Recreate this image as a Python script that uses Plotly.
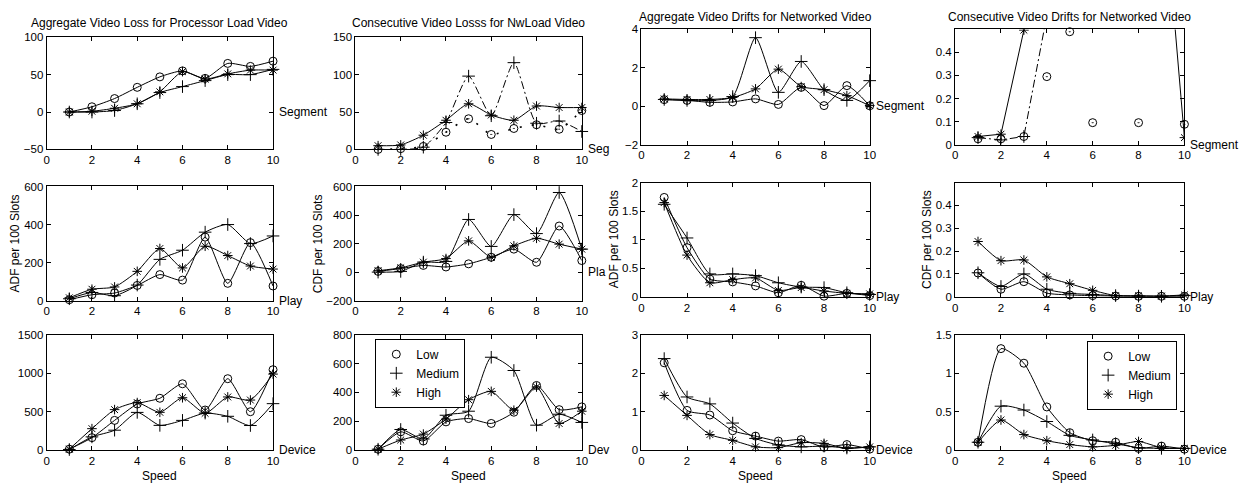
import plotly.graph_objects as go

W, H = 1248, 493
FONT = "Liberation Sans, Arial, Helvetica, sans-serif"

speed = [1, 2, 3, 4, 5, 6, 7, 8, 9, 10]
level_names = ["Low", "Medium", "High"]
x_ticks = [0, 2, 4, 6, 8, 10]

titles = ["Aggregate Video Loss for Processor Load Video",
          "Consecutive Video Losss for NwLoad Video",
          "Aggregate Video Drifts for Networked Video",
          "Consecutive Video Drifts for Networked Video"]
row_labels = [["Segment", "Seg", "Segment", "Segment"],
              ["Play", "Pla", "Play", "Play"],
              ["Device", "Dev", "Device", "Device"]]
y_labels = ["ADF per 100 Slots", "CDF per 100 Slots", "ADF per 100 Slots", "CDF per 100 Slots"]
x_label = "Speed"

y_ranges = [[[-50, 100], [0, 150], [-2, 4], [0, 0.5]],
            [[0, 600], [-200, 600], [0, 2], [0, 0.5]],
            [[0, 1500], [0, 800], [0, 3], [0, 1.5]]]
y_ticks = [[[-50, 0, 50, 100], [0, 50, 100, 150], [-2, 0, 2, 4], [0, 0.1, 0.2, 0.3, 0.4]],
           [[0, 200, 400, 600], [-200, 0, 200, 400, 600], [0, 0.5, 1, 1.5, 2], [0, 0.1, 0.2, 0.3, 0.4]],
           [[0, 500, 1000, 1500], [0, 200, 400, 600, 800], [0, 1, 2, 3], [0, 0.5, 1, 1.5]]]

# Aggregate Video Loss for Processor Load Video
loss_agg_seg_low = [0, 7, 18, 33, 47, 55, 45, 65, 61, 68]
loss_agg_seg_med = [0, 0, 2, 11, 26, 34, 42, 50, 50, 57]
loss_agg_seg_high = [0, 1, 5, 11, 27, 54, 44, 51, 56, 56]
loss_agg_play_low = [5, 31, 40, 80, 137, 108, 334, 91, 305, 77]
loss_agg_play_med = [10, 43, 26, 82, 217, 265, 360, 400, 300, 340]
loss_agg_play_high = [15, 60, 72, 154, 274, 172, 286, 237, 182, 166]
loss_agg_dev_low = [10, 160, 385, 598, 673, 862, 520, 928, 498, 1045]
loss_agg_dev_med = [5, 170, 257, 489, 320, 385, 480, 438, 318, 603]
loss_agg_dev_high = [10, 277, 525, 617, 490, 680, 477, 690, 650, 988]

# Consecutive Video Losss for NwLoad Video
loss_con_seg_low = [0, 1, 4, 23, 41, 20, 28, 33, 27, 52]
loss_con_seg_med = [0, 0, 3, 36, 98, 45, 116, 35, 38, 24]
loss_con_seg_high = [5, 6, 19, 39, 61, 46, 39, 58, 56, 56]
loss_con_play_low = [5, 25, 47, 36, 58, 104, 161, 69, 323, 81]
loss_con_play_med = [0, 5, 70, 75, 369, 180, 403, 270, 558, 161]
loss_con_play_high = [10, 30, 70, 95, 219, 104, 184, 237, 196, 161]
loss_con_dev_low = [5, 126, 62, 195, 218, 184, 262, 448, 280, 299]
loss_con_dev_med = [5, 142, 76, 241, 269, 644, 552, 172, 248, 191]
loss_con_dev_high = [5, 69, 110, 214, 349, 407, 276, 437, 184, 269]

# Aggregate Video Drifts for Networked Video
drift_agg_seg_low = [0.34, 0.3, 0.2, 0.22, 0.38, 0.09, 0.98, 0.03, 1.07, 0.02]
drift_agg_seg_med = [0.35, 0.3, 0.3, 0.5, 3.57, 0.72, 2.33, 0.86, 0.3, 1.33]
drift_agg_seg_high = [0.38, 0.35, 0.35, 0.45, 0.9, 1.93, 1.02, 0.86, 0.55, 0.03]
drift_agg_play_low = [1.74, 0.86, 0.31, 0.26, 0.19, 0.07, 0.2, 0.01, 0.06, 0.02]
drift_agg_play_med = [1.62, 1.03, 0.4, 0.4, 0.37, 0.245, 0.17, 0.16, 0.07, 0.04]
drift_agg_play_high = [1.65, 0.73, 0.245, 0.3, 0.33, 0.11, 0.16, 0.1, 0.06, 0.05]
drift_agg_dev_low = [2.27, 1.03, 0.91, 0.5, 0.36, 0.23, 0.27, 0.07, 0.14, 0.02]
drift_agg_dev_med = [2.38, 1.38, 1.2, 0.7, 0.3, 0.13, 0.08, 0.1, 0.05, 0.08]
drift_agg_dev_high = [1.42, 0.9, 0.4, 0.25, 0.08, 0.06, 0.19, 0.17, 0.04, 0.08]

# Consecutive Video Drifts for Networked Video (None = off the visible scale, unreadable)
drift_con_seg_low = [0.025, 0.025, 0.035, 0.295, 0.49, 0.095, None, 0.095, None, 0.088]
drift_con_seg_med = [0.03, 0.02, 0.035, 0.56, 1.3, 1.3, 1.3, 1.3, 1.3, 1.3]
drift_con_seg_high = [0.035, 0.045, 0.497, 1.2, 1.2, 1.2, 1.2, 1.2, 1.2, 0.03]
drift_con_play_low = [0.104, 0.033, 0.066, 0.016, 0.008, 0.005, 0.003, 0.002, 0.002, 0.002]
drift_con_play_med = [0.105, 0.045, 0.1, 0.033, 0.015, 0.01, 0.005, 0.003, 0.002, 0.005]
drift_con_play_high = [0.242, 0.158, 0.161, 0.087, 0.057, 0.028, 0.005, 0.004, 0.003, 0.008]
drift_con_dev_low = [0.1, 1.32, 1.13, 0.56, 0.225, 0.12, 0.1, 0.02, 0.05, 0.01]
drift_con_dev_med = [0.1, 0.57, 0.52, 0.37, 0.19, 0.13, 0.08, 0.03, 0.02, 0.02]
drift_con_dev_high = [0.1, 0.39, 0.2, 0.12, 0.07, 0.04, 0.06, 0.11, 0.03, 0.02]

panel_data = [
    [(loss_agg_seg_low, loss_agg_seg_med, loss_agg_seg_high),
     (loss_con_seg_low, loss_con_seg_med, loss_con_seg_high),
     (drift_agg_seg_low, drift_agg_seg_med, drift_agg_seg_high),
     (drift_con_seg_low, drift_con_seg_med, drift_con_seg_high)],
    [(loss_agg_play_low, loss_agg_play_med, loss_agg_play_high),
     (loss_con_play_low, loss_con_play_med, loss_con_play_high),
     (drift_agg_play_low, drift_agg_play_med, drift_agg_play_high),
     (drift_con_play_low, drift_con_play_med, drift_con_play_high)],
    [(loss_agg_dev_low, loss_agg_dev_med, loss_agg_dev_high),
     (loss_con_dev_low, loss_con_dev_med, loss_con_dev_high),
     (drift_agg_dev_low, drift_agg_dev_med, drift_agg_dev_high),
     (drift_con_dev_low, drift_con_dev_med, drift_con_dev_high)],
]

# layout (pixels)
col_px = [(44, 272), (355, 583), (643, 873), (959, 1190)]
row_px_left = [(32, 147), (185, 302), (337, 455)]
row_px_right = [(24, 142), (181, 298), (337, 455)]
title_y_px = [17, 17, 11, 11]
ylabel_x_px = [12, 317, 615, 930]
xlabel_y_px = 482

symbols = {"Low": "circle-open", "Medium": "cross-thin-open", "High": "asterisk-open"}
sizes = {"Low": 8, "Medium": 9, "High": 8}

fig = go.Figure()
layout = dict(width=W, height=H, margin=dict(l=0, r=0, t=0, b=0),
              paper_bgcolor="white", plot_bgcolor="white",
              font=dict(family=FONT, size=12, color="black"), annotations=[])

axis_style = dict(showline=True, linecolor="black", linewidth=1, mirror="ticks",
                  ticks="inside", ticklen=4, tickcolor="black", tickwidth=1,
                  showgrid=False, zeroline=False,
                  tickfont=dict(family=FONT, size=11.5, color="black"))

def rows_for(c):
    return row_px_left if c < 2 else row_px_right

for r in range(3):
    for c in range(4):
        i = r * 4 + c + 1
        sfx = "" if i == 1 else str(i)
        l, rr = col_px[c]
        t, b = rows_for(c)[r]
        layout["xaxis" + sfx] = dict(domain=[l / W, rr / W], range=[0, 10], tickvals=x_ticks,
                                     anchor="y" + sfx, **axis_style)
        layout["yaxis" + sfx] = dict(domain=[1 - b / H, 1 - t / H], range=y_ranges[r][c],
                                     tickvals=y_ticks[r][c], anchor="x" + sfx, **axis_style)
        special = (r == 0 and c in (1, 3))
        for k, name in enumerate(level_names):
            dash = "solid"
            symbol = symbols[name]
            width = 1
            mode = "lines+markers"
            clip = (r == 0 and c == 3)
            if special and name == "Low":
                dash = "2px,10px"
                symbol = "circle-open-dot"
                width = 1.6
                if c == 3:
                    mode = "markers"
                    clip = False
            elif special and name == "Medium":
                dash = "8px,3px,2px,3px"
            shape = "linear" if (r == 0 and c == 3) else "spline"
            fig.add_trace(go.Scatter(
                x=speed, y=panel_data[r][c][k], xaxis="x" + sfx, yaxis="y" + sfx,
                mode=mode, name=name, showlegend=False, cliponaxis=clip,
                line=dict(color="black", width=width, dash=dash, shape=shape, smoothing=0.6),
                marker=dict(symbol=symbol, size=sizes[name], color="black",
                            line=dict(color="black", width=1))))
        layout["annotations"].append(dict(
            text=row_labels[r][c], x=1, xref="x" + sfx + " domain", y=0, yref="y" + sfx,
            xanchor="left", yanchor="middle", xshift=4, showarrow=False,
            font=dict(family=FONT, size=12, color="black")))

for c in range(4):
    l, rr = col_px[c]
    layout["annotations"].append(dict(
        text=titles[c], x=(l + rr) / 2 / W, y=1 - title_y_px[c] / H, xref="paper", yref="paper",
        xanchor="center", yanchor="middle", showarrow=False,
        font=dict(family=FONT, size=12, color="black")))
    t, b = rows_for(c)[1]
    layout["annotations"].append(dict(
        text=y_labels[c], x=ylabel_x_px[c] / W, y=1 - (t + b) / 2 / H, xref="paper", yref="paper",
        xanchor="center", yanchor="middle", textangle=-90, showarrow=False,
        font=dict(family=FONT, size=12, color="black")))
    layout["annotations"].append(dict(
        text=x_label, x=(l + rr) / 2 / W, y=1 - xlabel_y_px / H, xref="paper", yref="paper",
        xanchor="center", yanchor="middle", showarrow=False,
        font=dict(family=FONT, size=12, color="black")))

# legend entries (markers only)
for leg, sfx in (("legend", "10"), ("legend2", "12")):
    for name in level_names:
        fig.add_trace(go.Scatter(
            x=[None], y=[None], xaxis="x" + sfx, yaxis="y" + sfx, mode="markers", name=name,
            legend=leg, showlegend=True,
            marker=dict(symbol=symbols[name], size=sizes[name], color="black",
                        line=dict(color="black", width=1))))

leg_style = dict(xanchor="left", yanchor="top", bgcolor="white", bordercolor="black",
                 borderwidth=1, font=dict(family=FONT, size=12, color="black"),
                 itemwidth=30, tracegroupgap=0)
layout["legend"] = dict(x=375 / W, y=1 - 341 / H, **leg_style)
layout["legend2"] = dict(x=1092 / W, y=1 - 343 / H, **leg_style)
layout["showlegend"] = True

fig.update_layout(**layout)
fig.write_html("out.html")
